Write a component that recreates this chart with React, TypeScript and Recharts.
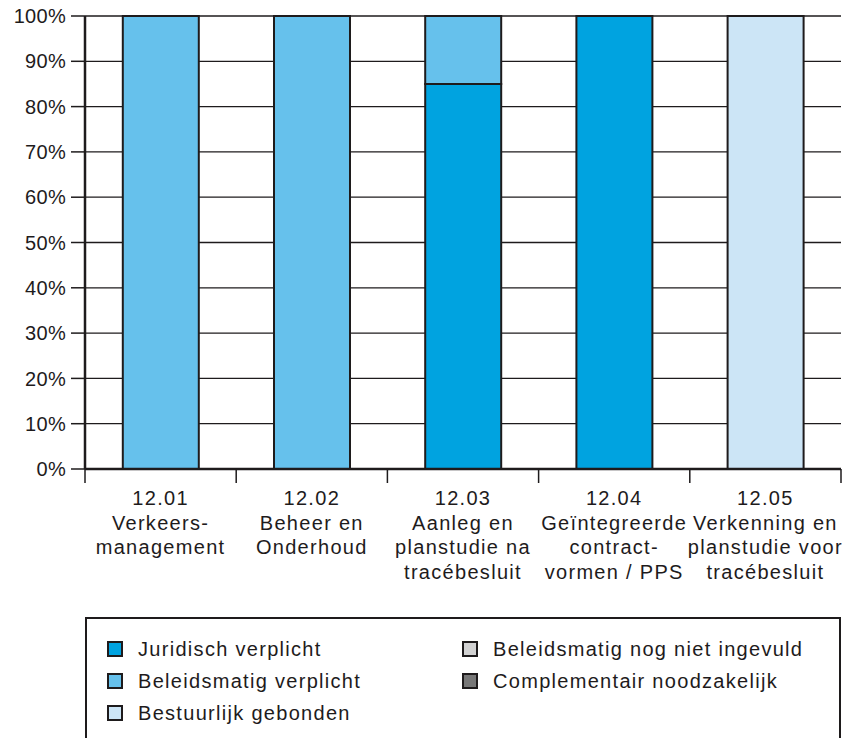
import React from 'react';
import { BarChart, Bar, XAxis, YAxis, CartesianGrid, Legend } from 'recharts';

const CATEGORY_CODES = ['12.01', '12.02', '12.03', '12.04', '12.05'];
const CATEGORY_NAMES = [
  ['Verkeers-', 'management'],
  ['Beheer en', 'Onderhoud'],
  ['Aanleg en', 'planstudie na', 'tracébesluit'],
  ['Geïntegreerde', 'contract-', 'vormen / PPS'],
  ['Verkenning en', 'planstudie voor', 'tracébesluit'],
];
const SERIES_KEYS = ['juridisch', 'beleidsmatig', 'bestuurlijk', 'nogNiet', 'complementair'];
const SERIES_NAMES = [
  'Juridisch verplicht',
  'Beleidsmatig verplicht',
  'Bestuurlijk gebonden',
  'Beleidsmatig nog niet ingevuld',
  'Complementair noodzakelijk',
];
const SERIES_COLORS = ['#00A3E0', '#66C1EC', '#CCE5F6', '#D2D2D2', '#777777'];
const JURIDISCH = [0, 0, 85, 100, 0];
const BELEIDSMATIG = [100, 100, 15, 0, 0];
const BESTUURLIJK = [0, 0, 0, 0, 100];
const NOG_NIET = [0, 0, 0, 0, 0];
const COMPLEMENTAIR = [0, 0, 0, 0, 0];
const Y_TICKS = [0, 10, 20, 30, 40, 50, 60, 70, 80, 90, 100];

const SERIES_VALUES = [JURIDISCH, BELEIDSMATIG, BESTUURLIJK, NOG_NIET, COMPLEMENTAIR];
const data = CATEGORY_CODES.map((code, i) => {
  const row: any = { code, names: CATEGORY_NAMES[i] };
  SERIES_KEYS.forEach((k, s) => {
    row[k] = SERIES_VALUES[s][i];
  });
  return row;
});

const W = 852;
const H = 738;
const MARGIN = { top: 16, right: 11, left: 0, bottom: 0 };
const Y_AXIS_W = 85;
const PLOT_W = W - MARGIN.left - MARGIN.right - Y_AXIS_W;
const INK = '#1E1B1C';
const FONT = '"Liberation Sans", Arial, sans-serif';
const FS = 20;
const LS = 1.3;

const XTick = (props: any) => {
  const { x, y, payload, index } = props;
  const band = PLOT_W / CATEGORY_CODES.length;
  const i = index ?? CATEGORY_CODES.indexOf(payload.value);
  const lines = [payload.value, ...CATEGORY_NAMES[i]];
  return (
    <g>
      <line x1={x - band / 2} x2={x - band / 2} y1={y} y2={y + 14} stroke={INK} strokeWidth={1.5} />
      {i === CATEGORY_CODES.length - 1 && (
        <line x1={x + band / 2} x2={x + band / 2} y1={y} y2={y + 14} stroke={INK} strokeWidth={1.5} />
      )}
      <text textAnchor="middle" fill={INK} fontSize={FS} fontFamily={FONT} letterSpacing={LS}>
        {lines.map((l: string, k: number) => (
          <tspan key={k} x={x} y={y + 36 + k * 24.5}>
            {l}
          </tspan>
        ))}
      </text>
    </g>
  );
};

const LegendContent = (props: any) => {
  const payload: any[] = props.payload || [];
  const items = SERIES_NAMES.map((name, i) => {
    const p = payload.find((q) => q.value === name);
    return { name, color: p ? p.color : SERIES_COLORS[i] };
  });
  return (
    <div
      style={{
        boxSizing: 'border-box',
        width: '100%',
        height: '100%',
        border: `2px solid ${INK}`,
        paddingLeft: 20,
        paddingTop: 14,
        display: 'grid',
        gridTemplateColumns: '355px auto',
        gridTemplateRows: 'repeat(3, 32px)',
        gridAutoFlow: 'column',
        fontFamily: FONT,
        fontSize: FS,
        letterSpacing: LS,
        color: INK,
      }}
    >
      {items.map((it) => (
        <div key={it.name} style={{ display: 'flex', alignItems: 'center', height: 32, whiteSpace: 'nowrap' }}>
          <span
            style={{
              display: 'inline-block',
              boxSizing: 'border-box',
              width: 16,
              height: 16,
              border: `2px solid ${INK}`,
              background: it.color,
              marginRight: 15,
              flex: 'none',
            }}
          />
          <span>{it.name}</span>
        </div>
      ))}
    </div>
  );
};

export default function App() {
  return (
    <div
      style={{
        position: 'absolute',
        left: 0,
        top: 0,
        width: W,
        height: H,
        overflow: 'hidden',
        background: '#fff',
      }}
    >
      <BarChart width={W} height={H} data={data} margin={MARGIN} barCategoryGap="25%">
        <CartesianGrid vertical={false} yAxisId="left" stroke={INK} strokeWidth={1.3} />
        <XAxis
          dataKey="code"
          height={269}
          interval={0}
          tickLine={false}
          tickSize={0}
          tickMargin={0}
          axisLine={{ stroke: INK, strokeWidth: 2.5 }}
          tick={<XTick />}
        />
        <YAxis
          yAxisId="left"
          width={Y_AXIS_W}
          domain={[0, 100]}
          ticks={Y_TICKS}
          interval={0}
          tickSize={14}
          tickMargin={5}
          tickFormatter={(v: number) => `${v}%`}
          axisLine={{ stroke: INK, strokeWidth: 2.5 }}
          tickLine={{ stroke: INK, strokeWidth: 1.5 }}
          tick={{ fontSize: FS, fill: INK, fontFamily: FONT, letterSpacing: 0.3 }}
        />
        <YAxis
          yAxisId="right"
          orientation="right"
          width={0}
          domain={[0, 100]}
          tick={false}
          tickLine={false}
          axisLine={{ stroke: INK, strokeWidth: 2.5 }}
        />
        {SERIES_KEYS.map((k, s) => (
          <Bar
            key={k}
            yAxisId="left"
            dataKey={k}
            name={SERIES_NAMES[s]}
            stackId="a"
            fill={SERIES_COLORS[s]}
            stroke={INK}
            strokeWidth={2}
            isAnimationActive={false}
          />
        ))}
        <Legend
          layout="horizontal"
          verticalAlign="middle"
          align="center"
          wrapperStyle={{ position: 'absolute', left: 85, top: 617, width: 756, height: 140 }}
          content={<LegendContent />}
        />
      </BarChart>
    </div>
  );
}
